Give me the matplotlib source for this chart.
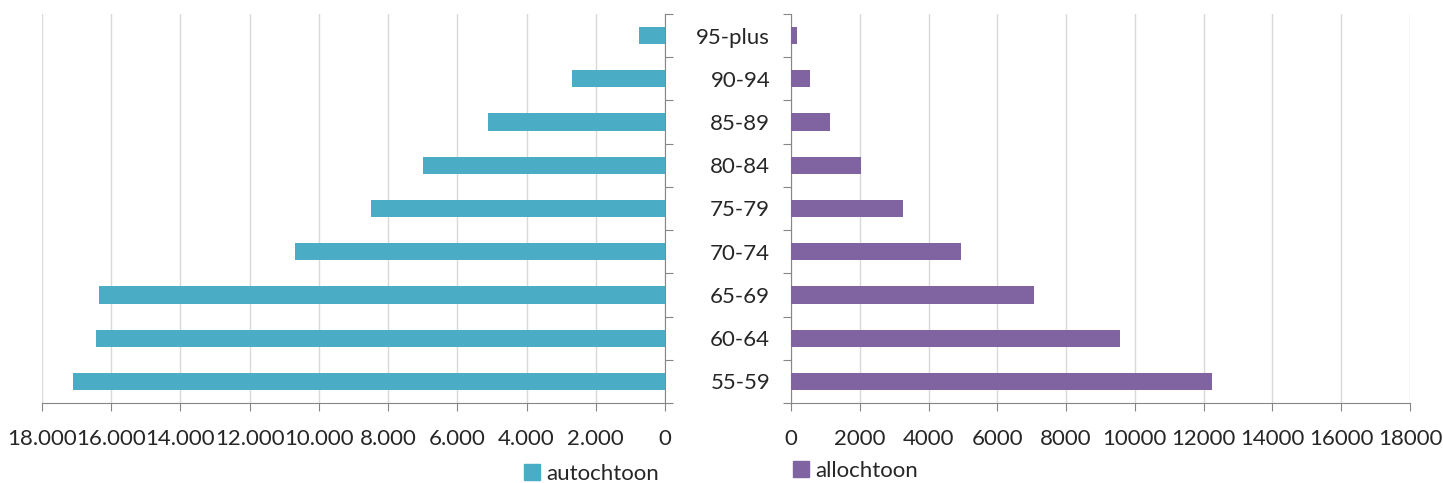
import matplotlib.pyplot as plt
from matplotlib.patches import Patch
from matplotlib.ticker import FuncFormatter

# === Daten ===
leeftijd = ["55-59", "60-64", "65-69", "70-74", "75-79", "80-84", "85-89", "90-94", "95-plus"]
autochtoon = [17100, 16450, 16350, 10700, 8500, 7000, 5100, 2700, 750]
allochtoon = [12250, 9580, 7070, 4950, 3270, 2030, 1130, 540, 170]
x_ticks = [0, 2000, 4000, 6000, 8000, 10000, 12000, 14000, 16000, 18000]

KLEUR_AUTO = "#4BACC6"
KLEUR_ALLO = "#8064A2"
TEKST = "#262626"
AS = "#868686"
GRID = "#D9D9D9"

plt.rcParams["font.family"] = ["Lato", "DejaVu Sans"]
plt.rcParams["font.size"] = 16

fig = plt.figure(figsize=(14.43, 4.83), dpi=100)
ax_l = fig.add_axes([42 / 1443, 80 / 483, 623 / 1443, 389 / 483])
ax_r = fig.add_axes([791 / 1443, 80 / 483, 619 / 1443, 389 / 483])

pos = range(len(leeftijd))

# === Links: autochtoon ===
ax_l.barh(pos, autochtoon, height=0.4, color=KLEUR_AUTO, zorder=3)
ax_l.set_xlim(18000, 0)
ax_l.set_ylim(-0.5, len(leeftijd) - 0.5)
ax_l.set_xticks(x_ticks)
ax_l.xaxis.set_major_formatter(FuncFormatter(lambda v, p: f"{v:,.0f}".replace(",", ".")))
ax_l.yaxis.tick_right()
ax_l.set_yticks([i - 0.5 for i in range(len(leeftijd) + 1)])
ax_l.set_yticklabels([])
ax_l.tick_params(axis="y", length=6, color=AS, direction="out")

# === Rechts: allochtoon ===
ax_r.barh(pos, allochtoon, height=0.4, color=KLEUR_ALLO, zorder=3)
ax_r.set_xlim(0, 18000)
ax_r.set_ylim(-0.5, len(leeftijd) - 0.5)
ax_r.set_xticks(x_ticks)
ax_r.set_yticks([i - 0.5 for i in range(len(leeftijd) + 1)])
ax_r.set_yticklabels([])
ax_r.set_yticks(list(pos), minor=True)
ax_r.set_yticklabels(leeftijd, minor=True)
ax_r.tick_params(axis="y", which="major", length=6, color=AS)
ax_r.tick_params(axis="y", which="minor", length=0, pad=15, labelsize=16, labelcolor=TEKST)

for ax in (ax_l, ax_r):
    ax.grid(axis="x", color=GRID, linewidth=1, zorder=0)
    ax.set_axisbelow(True)
    ax.tick_params(axis="x", length=6, color=AS, pad=13, labelsize=16, labelcolor=TEKST)
    for s in ax.spines.values():
        s.set_visible(False)
    ax.spines["bottom"].set_visible(True)
    ax.spines["bottom"].set_color(AS)

ax_l.spines["right"].set_visible(True)
ax_l.spines["right"].set_color(AS)
ax_r.spines["left"].set_visible(True)
ax_r.spines["left"].set_color(AS)

# === Legenden ===
fig.legend(handles=[Patch(color=KLEUR_AUTO, label="autochtoon")], loc="center left",
           bbox_to_anchor=(504 / 1443, 1 - 474 / 483), frameon=False, fontsize=16,
           handlelength=0.7, handleheight=0.7, handletextpad=0.3, labelcolor=TEKST)
fig.legend(handles=[Patch(color=KLEUR_ALLO, label="allochtoon")], loc="center left",
           bbox_to_anchor=(773 / 1443, 1 - 471 / 483), frameon=False, fontsize=16,
           handlelength=0.7, handleheight=0.7, handletextpad=0.3, labelcolor=TEKST)

fig.savefig("out.png", dpi=100)
plt.close(fig)
